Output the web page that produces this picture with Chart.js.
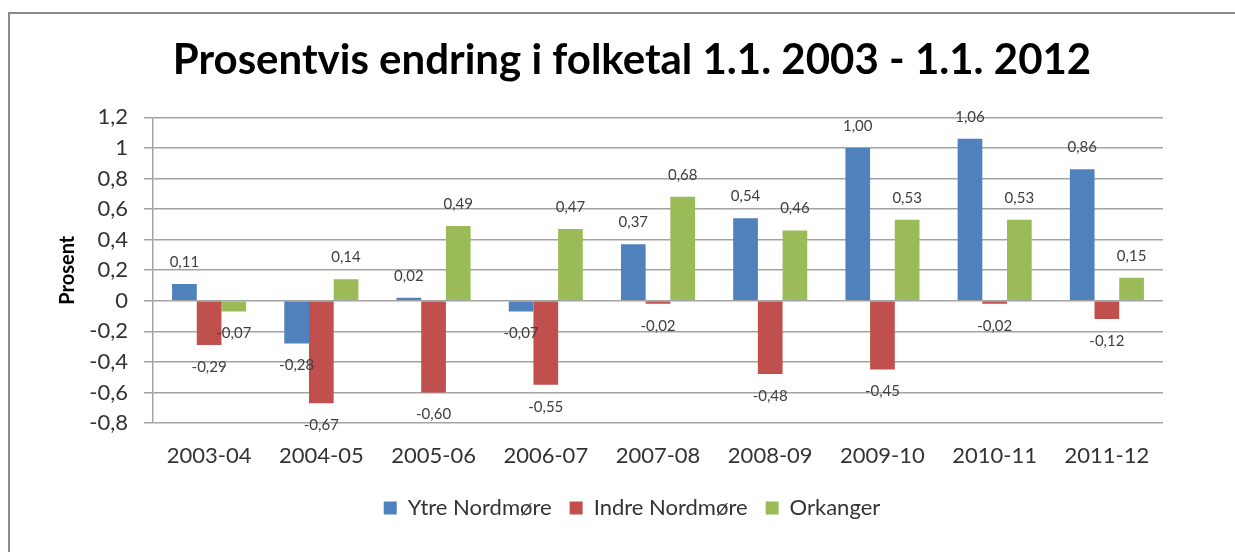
<!DOCTYPE html>
<html>
<head>
<meta charset="utf-8">
<script src="https://cdn.jsdelivr.net/npm/chart.js@4"></script>
<style>
  body { margin: 0; background: #fff; }
  #wrap { position: relative; width: 1235px; height: 552px; }
  #frame { position: absolute; left: 8px; top: 12px; right: -4px; bottom: -4px;
           border-left: 2px solid #8c8c8c; border-top: 2px solid #8c8c8c; pointer-events: none; }
</style>
</head>
<body>
<div id="wrap">
  <canvas id="chart" width="1235" height="552"></canvas>
  <div id="frame"></div>
</div>
<script>
// --- data ---
const periods = ['2003-04', '2004-05', '2005-06', '2006-07', '2007-08', '2008-09', '2009-10', '2010-11', '2011-12'];
const ytreNordmore = [0.11, -0.28, 0.02, -0.07, 0.37, 0.54, 1.00, 1.06, 0.86];
const indreNordmore = [-0.29, -0.67, -0.60, -0.55, -0.02, -0.48, -0.45, -0.02, -0.12];
const orkanger = [-0.07, 0.14, 0.49, 0.47, 0.68, 0.46, 0.53, 0.53, 0.15];
const seriesNames = ['Ytre Nordmøre', 'Indre Nordmøre', 'Orkanger'];

const FONT = 'Lato, "Open Sans", sans-serif';
const gridGray = '#a3a3a3';

function comma(v, digits) {
  return v.toFixed(digits).replace('.', ',');
}

// value labels at the outer end of every bar
const valueLabels = {
  id: 'valueLabels',
  afterDatasetsDraw(chart) {
    const ctx = chart.ctx;
    ctx.save();
    ctx.font = '15px ' + FONT;
    ctx.fillStyle = '#404040';
    ctx.textAlign = 'center';
    ctx.textBaseline = 'middle';
    chart.data.datasets.forEach((ds, i) => {
      chart.getDatasetMeta(i).data.forEach((bar, j) => {
        const v = ds.data[j];
        const y = v >= 0 ? bar.y - 22 : bar.y + 22;
        ctx.fillText(comma(v, 2), bar.x, y);
      });
    });
    ctx.restore();
  }
};

new Chart(document.getElementById('chart'), {
  type: 'bar',
  data: {
    labels: periods,
    datasets: [
      { label: seriesNames[0], data: ytreNordmore, backgroundColor: '#4F81BD' },
      { label: seriesNames[1], data: indreNordmore, backgroundColor: '#C0504D' },
      { label: seriesNames[2], data: orkanger, backgroundColor: '#9BBB59' }
    ]
  },
  options: {
    responsive: false,
    animation: false,
    layout: { padding: { left: 29, right: 0, top: 0, bottom: 23 } },
    datasets: { bar: { categoryPercentage: 0.66, barPercentage: 1.0 } },
    plugins: {
      title: {
        display: true,
        text: 'Prosentvis endring i folketal 1.1. 2003 - 1.1. 2012',
        color: '#000',
        font: { family: FONT, size: 42, weight: 'bold', lineHeight: 1.2 },
        padding: { top: 35, bottom: 32 }
      },
      legend: {
        position: 'bottom',
        labels: {
          boxWidth: 13,
          boxHeight: 13,
          padding: 18,
          color: '#333',
          font: { family: FONT, size: 22 }
        }
      },
      tooltip: { enabled: false }
    },
    scales: {
      x: {
        grid: { display: false, drawTicks: false },
        border: { display: false },
        ticks: { color: '#333', padding: 20, font: { family: FONT, size: 22 } },
        afterFit(s) { s.height = 56; }
      },
      y: {
        min: -0.8,
        max: 1.2,
        ticks: {
          stepSize: 0.2,
          padding: 16,
          color: '#333',
          font: { family: FONT, size: 22 },
          callback: v => String(Math.round(v * 10) / 10).replace('.', ',')
        },
        grid: { color: gridGray, lineWidth: 1.5, tickLength: 9, tickColor: gridGray },
        border: { display: true, color: gridGray, width: 1.5 },
        title: {
          display: true,
          text: 'Prosent',
          color: '#000',
          font: { family: FONT, size: 20, weight: 'bold', lineHeight: 1.2 },
          padding: { top: 27, bottom: 0 }
        },
        afterFit(s) { s.width = 124; }
      },
      y2: {
        position: 'right',
        display: true,
        grid: { display: false, drawTicks: false },
        border: { display: false },
        ticks: { display: false },
        afterFit(s) { s.width = 72; }
      }
    }
  },
  plugins: [valueLabels]
});
</script>
</body>
</html>
